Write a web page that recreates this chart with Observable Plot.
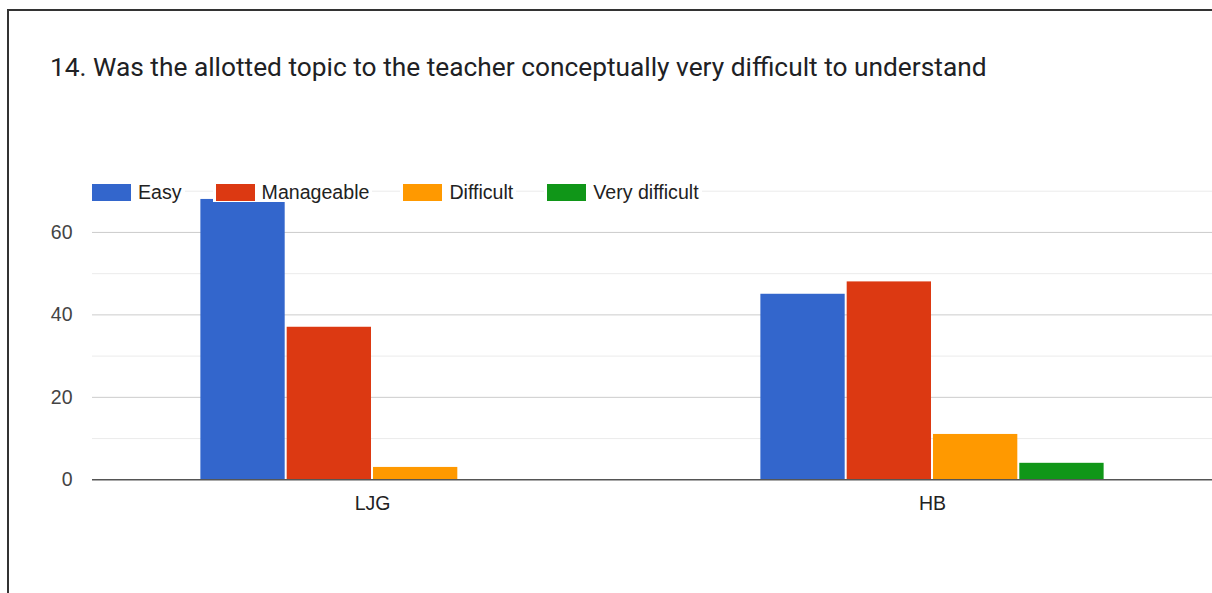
<!DOCTYPE html>
<html>
<head>
<meta charset="utf-8">
<script src="https://cdn.jsdelivr.net/npm/d3@7"></script>
<script src="https://cdn.jsdelivr.net/npm/@observablehq/plot@0.6"></script>
<style>
  html, body { margin: 0; padding: 0; background: #fff; overflow: hidden; }
  #wrap { position: relative; width: 1212px; height: 593px; overflow: hidden; background: #fff; }
  #frame { position: absolute; left: 7px; top: 9px; width: 1230px; height: 620px;
           border-left: 2px solid #333; border-top: 2px solid #333; z-index: 3; }
  #title { position: absolute; left: 50px; top: 52px; font-family: Roboto, "Liberation Sans", sans-serif;
           font-size: 26.3px; color: #202124; white-space: nowrap; z-index: 2; }
  #chart { position: absolute; left: 0; top: 0; z-index: 1; }
  #legend { position: absolute; left: 89px; top: 182px; display: flex; gap: 28px; z-index: 2;
            font-family: "Liberation Sans", Arial, sans-serif; font-size: 19.6px; color: #222; }
  .item { display: flex; align-items: center; background: #fff; padding: 0 3px; height: 20px; line-height: 20px; }
  .sw { width: 39px; height: 17px; display: inline-block; margin-right: 7px; }
</style>
</head>
<body>
<div id="wrap">
  <div id="frame"></div>
  <div id="title">14. Was the allotted topic to the teacher conceptually very difficult to understand</div>
  <div id="chart"></div>
  <div id="legend"></div>
</div>
<script>
const groups = ["LJG", "HB"];
const series = ["Easy", "Manageable", "Difficult", "Very difficult"];
const colors = ["#3366cc", "#dc3912", "#ff9900", "#109618"];
const ljgValues = [68, 37, 3, 0];
const hbValues = [45, 48, 11, 4];
const yTicks = [0, 20, 40, 60];
const majorGrid = [20, 40, 60];
const minorGrid = [10, 30, 50, 70];

const valuesByGroup = [ljgValues, hbValues];
const data = groups.flatMap((g, i) =>
  series.map((s, j) => ({ group: g, series: s, value: valuesByGroup[i][j] }))
);

const chart = Plot.plot({
  width: 1212,
  height: 593,
  marginLeft: 92,
  marginRight: 0,
  marginTop: 190.7,
  marginBottom: 113.7,
  style: { fontFamily: "'Liberation Sans', Arial, sans-serif", fontSize: "19px", background: "transparent" },
  fx: { domain: groups, padding: 0, round: false, label: null },
  x: { domain: series, paddingInner: 0, paddingOuter: 1.244, round: false, axis: null },
  y: { domain: [0, 70], label: null },
  color: { domain: series, range: colors },
  marks: [
    Plot.ruleY(minorGrid, { stroke: "#ebebeb", strokeWidth: 1 }),
    Plot.ruleY(majorGrid, { stroke: "#cccccc", strokeWidth: 1 }),
    Plot.barY(data, { fx: "group", x: "series", y: "value", fill: "series", insetLeft: 1, insetRight: 1 }),
    Plot.ruleY([0], { stroke: "#555", strokeWidth: 1.6 }),
    Plot.axisY(yTicks, { tickSize: 0, tickPadding: 20, fill: "#444", fontSize: 19.5, label: null }),
    Plot.axisFx({ anchor: "bottom", tickSize: 0, tickPadding: 16, fill: "#222", fontSize: 19.5, label: null })
  ]
});
document.getElementById("chart").appendChild(chart);

const legend = document.getElementById("legend");
series.forEach((s, i) => {
  const item = document.createElement("div");
  item.className = "item";
  const sw = document.createElement("span");
  sw.className = "sw";
  sw.style.background = colors[i];
  const label = document.createElement("span");
  label.textContent = s;
  item.appendChild(sw);
  item.appendChild(label);
  legend.appendChild(item);
});
</script>
</body>
</html>
